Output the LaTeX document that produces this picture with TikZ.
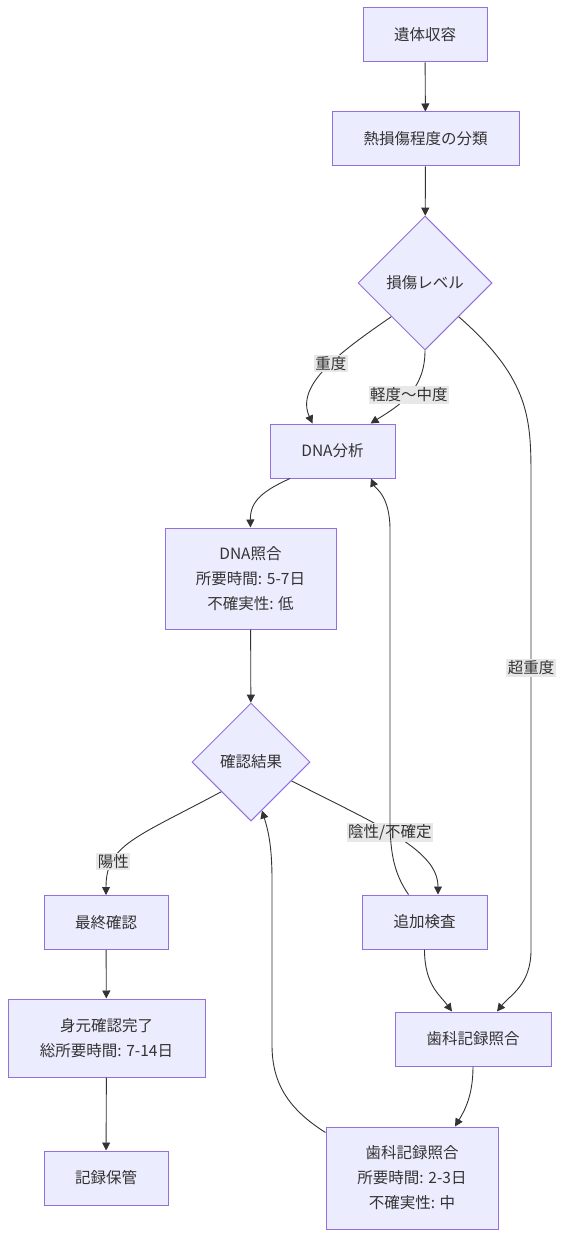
\documentclass[tikz,border=0pt]{standalone}
\usepackage{fontspec}
\setmainfont{Noto Sans CJK JP}
\usetikzlibrary{shapes.geometric,arrows.meta,calc}
\definecolor{nodefill}{HTML}{ECECFF}
\definecolor{nodeline}{HTML}{9370DB}
\definecolor{txt}{HTML}{333333}
\definecolor{lblbg}{HTML}{E8E8E8}
\begin{document}
\begin{tikzpicture}[x=1pt,y=-1pt,
  fnt/.style={font=\fontsize{15.5}{25}\selectfont},
  box/.style={fnt,draw=nodeline,fill=nodefill,line width=1pt,text=txt,align=center,inner sep=0pt},
  dia/.style={fnt,diamond,draw=nodeline,fill=nodefill,line width=1pt,text=txt,inner sep=0pt,aspect=1},
  arr/.style={draw=txt,line width=0.9pt,-{Triangle[length=8pt,width=8pt]}},
  lbl/.style={fnt,fill=lblbg,text=txt,inner sep=1.5pt}]
\useasboundingbox (0,0) rectangle (563,1238);
\fill[white] (0,0) rectangle (563,1238);

\node[box,minimum width=124pt,minimum height=54pt] (A) at (425,35) {遺体収容};
\node[box,minimum width=187pt,minimum height=54pt] (B) at (425.5,139) {熱損傷程度の分類};
\node[dia,minimum width=134pt,minimum height=134pt] (C) at (425,283) {損傷レベル};
\node[box,minimum width=125pt,minimum height=54pt] (D) at (332.5,451) {DNA分析};
\node[box,minimum width=171pt,minimum height=101pt] (E) at (250.5,578.5) {DNA照合\\所要時間: 5-7日\\不確実性: 低};
\node[dia,minimum width=118pt,minimum height=118pt] (F) at (251,762) {確認結果};
\node[box,minimum width=124pt,minimum height=54pt] (G) at (106,922.5) {最終確認};
\node[box,minimum width=125pt,minimum height=54pt] (H) at (424.5,922) {追加検査};
\node[box,minimum width=156pt,minimum height=54pt] (I) at (473,1039) {歯科記録照合};
\node[box,minimum width=197pt,minimum height=78pt] (J) at (106.5,1038) {身元確認完了\\総所要時間: 7-14日};
\node[box,minimum width=172pt,minimum height=102pt] (K) at (412,1178) {歯科記録照合\\所要時間: 2-3日\\不確実性: 中};
\node[box,minimum width=124pt,minimum height=54pt] (L) at (106,1178) {記録保管};

\draw[arr] (A) -- (B);
\draw[arr] (B) -- (C);
\draw[arr] (C.south west) .. controls (340,352) and (295,385) .. node[lbl,pos=0.45]{重度} ([xshift=-20pt]D.north);
\draw[arr] (C.south) .. controls (425,390) and (400,405) .. node[lbl,pos=0.5]{軽度～中度} ([xshift=38pt]D.north);
\draw[arr] (C.south east) .. controls (531,380) and (531,420) .. (531,480) -- node[lbl,pos=0.4]{超重度} (531,950) .. controls (531,985) and (510,995) .. ([xshift=24pt]I.north);
\draw[arr] ([xshift=-42.5pt]D.south) .. controls (265,490) and (250,500) .. (E.north);
\draw[arr] (E) -- (F);
\draw[arr] (F.south west) .. controls (135,838) and (106,845) .. node[lbl,pos=0.72]{陽性} (G.north);
\draw[arr] (F.-25) .. controls (380,826) and (438,850) .. node[lbl,pos=0.45]{陰性/不確定} ([xshift=13.5pt]H.north);
\draw[arr] ([xshift=-16pt]H.north) .. controls (395,875) and (390,855) .. (390,820) -- (390,530) .. controls (390,495) and (375,488) .. ([xshift=38.5pt]D.south);
\draw[arr] (H.south) .. controls (424.5,985) and (440,995) .. ([xshift=-21pt]I.north);
\draw[arr] (I.south) .. controls (473,1095) and (465,1110) .. ([xshift=43pt]K.north);
\draw[arr] ([yshift=-6pt]K.north west) .. controls (290,1110) and (272,1085) .. (272,1045) -- (272,880) .. controls (272,845) and (268,830) .. ($(F.south)+(11,-11)$);
\draw[arr] (G) -- (J);
\draw[arr] (J) -- (L);
\end{tikzpicture}
\end{document}
